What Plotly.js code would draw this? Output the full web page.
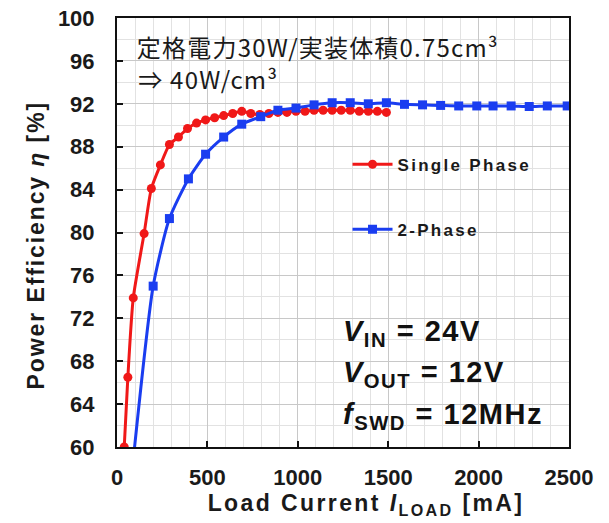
<!DOCTYPE html>
<html><head><meta charset="utf-8">
<script src="https://cdn.plot.ly/plotly-3.0.1.min.js"></script>
<style>
body{margin:0;background:#fff}#c{width:609px;height:523px}
.legendtext{letter-spacing:2.3px}
.annotation-text{letter-spacing:1.5px}
g.annotation[data-index="0"] .annotation-text,
g.annotation[data-index="1"] .annotation-text{letter-spacing:1.2px}
g.annotation[data-index="5"] .annotation-text{letter-spacing:2.4px}
g.annotation[data-index="6"] .annotation-text{letter-spacing:1.9px}
</style>
</head><body><div id="c"></div>
<script>
const singleX = [40, 60, 90, 150, 190, 240, 290, 340, 390, 440, 490, 540, 590, 640, 690, 740, 790, 840, 890, 940, 990, 1040, 1090, 1140, 1190, 1240, 1290, 1340, 1390, 1440, 1490];
const singleY = [60.0, 66.5, 73.9, 79.9, 84.1, 86.3, 88.2, 88.9, 89.7, 90.2, 90.5, 90.7, 90.9, 91.1, 91.3, 91.1, 91.0, 91.1, 91.2, 91.2, 91.3, 91.3, 91.4, 91.4, 91.4, 91.4, 91.4, 91.3, 91.3, 91.3, 91.2];
const twoX = [85, 200, 290, 395, 490, 590, 690, 795, 890, 990, 1090, 1190, 1290, 1390, 1490, 1590, 1690, 1790, 1890, 1990, 2080, 2180, 2280, 2380, 2490];
const twoY = [58.0, 75.0, 81.3, 85.0, 87.3, 88.9, 90.1, 90.8, 91.4, 91.6, 91.9, 92.1, 92.1, 92.0, 92.1, 91.95, 91.9, 91.85, 91.8, 91.8, 91.8, 91.8, 91.75, 91.8, 91.8];
const yTicks = [60, 64, 68, 72, 76, 80, 84, 88, 92, 96, 100];
const xTicks = [0, 500, 1000, 1500, 2000, 2500];

const F = 'Arial, "Liberation Sans", sans-serif';
const J = '"Noto Sans CJK JP", sans-serif';
const traces = [
  {x: singleX, y: singleY, name: 'Single Phase', mode: 'lines+markers', legendgroup: 'a',
   line: {color: '#f01818', width: 3, shape: 'spline', smoothing: 0.6},
   marker: {color: '#f01818', symbol: 'circle', size: 9}},
  {x: twoX, y: twoY, name: '2-Phase', mode: 'lines+markers', legendgroup: 'b',
   line: {color: '#1a3df0', width: 3, shape: 'spline', smoothing: 0.6},
   marker: {color: '#1a3df0', symbol: 'square', size: 9}}
];
const layout = {
  width: 609, height: 523,
  margin: {l: 117, r: 40, t: 18, b: 76},
  paper_bgcolor: '#fff', plot_bgcolor: '#fff',
  font: {family: F, color: '#1a1a1a'},
  showlegend: true,
  legend: {x: 0.51, y: 0.70, xanchor: 'left', yanchor: 'top', bgcolor: 'rgba(0,0,0,0)',
    font: {family: F, size: 17, color: '#1a1a1a', weight: 'bold'}, tracegroupgap: 40, traceorder: 'grouped', itemwidth: 40},
  xaxis: {range: [0, 2500], tickvals: xTicks, ticktext: xTicks.map(String),
    ticks: 'inside', ticklen: 6, tickwidth: 2, tickcolor: '#111', ticklabelstandoff: 10,
    showline: true, linewidth: 2, linecolor: '#111', mirror: true,
    showgrid: true, gridcolor: '#c8c8c8', gridwidth: 1, zeroline: false,
    minor: {dtick: 100, showgrid: true, gridcolor: '#e2e2e2', gridwidth: 1},
    tickfont: {family: F, size: 22, color: '#1a1a1a', weight: 'bold'}},
  yaxis: {range: [60, 100], tickvals: yTicks, ticktext: yTicks.map(String),
    ticks: 'inside', ticklen: 6, tickwidth: 2, tickcolor: '#111', ticklabelstandoff: 16,
    showline: true, linewidth: 2, linecolor: '#111', mirror: true,
    showgrid: true, gridcolor: '#c8c8c8', gridwidth: 1, zeroline: false,
    minor: {dtick: 2, showgrid: true, gridcolor: '#e2e2e2', gridwidth: 1},
    tickfont: {family: F, size: 22, color: '#1a1a1a', weight: 'bold'}},
  annotations: [
    {xref: 'paper', yref: 'paper', x: 0.034, y: 0.933, xanchor: 'left', yanchor: 'middle', showarrow: false,
     text: '定格電力30W/実装体積0.75cm³', font: {family: J, size: 24, color: '#1a1a1a'}},
    {xref: 'paper', yref: 'paper', x: 0.04, y: 0.859, xanchor: 'left', yanchor: 'middle', showarrow: false,
     text: '⇒ 40W/cm³', font: {family: J, size: 24, color: '#1a1a1a'}},
    {xref: 'paper', yref: 'paper', x: 0.495, y: 0.265, xanchor: 'left', yanchor: 'middle', showarrow: false,
     text: '<i>V</i><sub>IN</sub> = 24V', font: {family: F, size: 29, color: '#111', weight: 'bold'}},
    {xref: 'paper', yref: 'paper', x: 0.495, y: 0.17, xanchor: 'left', yanchor: 'middle', showarrow: false,
     text: '<i>V</i><sub>OUT</sub> = 12V', font: {family: F, size: 29, color: '#111', weight: 'bold'}},
    {xref: 'paper', yref: 'paper', x: 0.495, y: 0.072, xanchor: 'left', yanchor: 'middle', showarrow: false,
     text: '<i>f</i><sub>SWD</sub> = 12MHz', font: {family: F, size: 29, color: '#111', weight: 'bold'}},
    {xref: 'paper', yref: 'paper', x: 0.551, y: -0.135, xanchor: 'center', yanchor: 'middle', showarrow: false,
     text: 'Load Current <i>I</i><sub>LOAD</sub> [mA]', font: {family: F, size: 23, color: '#1a1a1a', weight: 'bold'}},
    {xref: 'paper', yref: 'paper', x: -0.179, y: 0.471, xanchor: 'center', yanchor: 'middle', showarrow: false, textangle: -90,
     text: 'Power Efficiency <i>η</i> [%]', font: {family: F, size: 23, color: '#1a1a1a', weight: 'bold'}}
  ]
};
Plotly.newPlot('c', traces, layout, {staticPlot: true});
</script></body></html>
